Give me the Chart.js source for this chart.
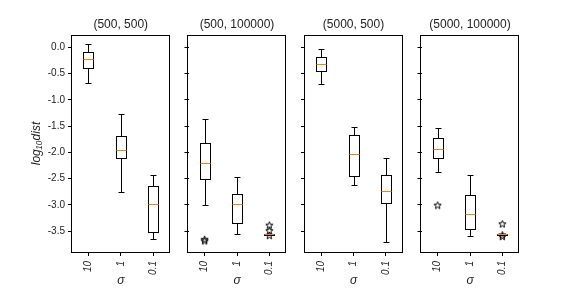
<!DOCTYPE html>
<html>
<head>
<meta charset="utf-8">
<script src="https://cdn.jsdelivr.net/npm/chart.js@4.4.1/dist/chart.umd.min.js"></script>
<style>
    html, body { margin: 0; padding: 0; background: #fff; }
    #fig { position: relative; width: 576px; height: 288px; }
    #fig canvas { position: absolute; left: 0; top: 0; }
</style>
</head>
<body>
<div id="fig"></div>
<script>
// ---- data ----
const categories = ['10', '1', '0.1'];
const panelTitles = ['(500, 500)', '(500, 100000)', '(5000, 500)', '(5000, 100000)'];
const yTicks = [0, -0.5, -1, -1.5, -2, -2.5, -3, -3.5];

// one row per panel, one value per sigma category
const whiskerLow = [
    [-0.686, -2.75, -3.658],
    [-3.01, -3.56, -3.57],
    [-0.705, -2.63, -3.71],
    [-2.38, -3.60, -3.57]
];
const quartile1 = [
    [-0.388, -2.115, -3.518],
    [-2.50, -3.35, -3.566],
    [-0.458, -2.45, -2.97],
    [-2.11, -3.467, -3.566]
];
const medians = [
    [-0.229, -1.963, -2.985],
    [-2.21, -2.99, -3.56],
    [-0.318, -2.04, -2.745],
    [-1.937, -3.175, -3.56]
];
const quartile3 = [
    [-0.095, -1.683, -2.636],
    [-1.83, -2.80, -3.553],
    [-0.19, -1.677, -2.44],
    [-1.73, -2.82, -3.553]
];
const whiskerHigh = [
    [0.057, -1.264, -2.44],
    [-1.372, -2.477, -3.55],
    [-0.04, -1.51, -2.115],
    [-1.53, -2.44, -3.55]
];
// outliers: [category, value]
const fliers = [
    [],
    [['10', -3.655], ['10', -3.685], ['0.1', -3.385], ['0.1', -3.49], ['0.1', -3.58]],
    [],
    [['10', -3.004], ['0.1', -3.36], ['0.1', -3.57], ['0.1', -3.60]]
];

// ---- layout of the figure (matplotlib-like subplot grid) ----
const FIG_W = 576, FIG_H = 288;
const panelLeft = [72, 188.5, 305, 421.5];
const panelRight = [169.5, 285.5, 402, 518.5];
const AXES_TOP = 35, AXES_BOTTOM = 252;
const Y_MIN = -3.897, Y_MAX = 0.234;
const BOX_W = 10;

Chart.defaults.font.family = "'Liberation Sans', Arial, sans-serif";
Chart.defaults.font.size = 10;
Chart.defaults.color = '#222';

function makeStar(size) {
    const c = document.createElement('canvas');
    c.width = c.height = size;
    const g = c.getContext('2d');
    const cx = size / 2, cy = size / 2 + 0.4, R = size / 2 - 0.7, r = R * 0.42;
    g.beginPath();
    for (let k = 0; k < 10; k++) {
        const a = -Math.PI / 2 + k * Math.PI / 5;
        const rr = k % 2 ? r : R;
        g.lineTo(cx + rr * Math.cos(a), cy + rr * Math.sin(a));
    }
    g.closePath();
    g.strokeStyle = '#000';
    g.lineWidth = 1;
    g.stroke();
    return c;
}
const starImg = makeStar(9);

// box outlines, whiskers, caps, medians and the axes frame
const boxParts = {
    id: 'boxParts',
    afterDatasetsDraw(chart, args, opts) {
        const p = opts.panel;
        const { ctx, scales: { x, y } } = chart;
        const yy = v => Math.round(y.getPixelForValue(v)) + 0.5;
        ctx.save();
        ctx.lineWidth = 1;
        categories.forEach((c, i) => {
            const cx = x.getPixelForValue(i);
            const px = Math.round(cx) + 0.5;
            const bl = Math.round(cx - BOX_W / 2) + 0.5, br = Math.round(cx + BOX_W / 2) + 0.5;
            ctx.strokeStyle = '#000';
            ctx.beginPath();
            ctx.moveTo(px, yy(quartile3[p][i])); ctx.lineTo(px, yy(whiskerHigh[p][i]));
            ctx.moveTo(px, yy(quartile1[p][i])); ctx.lineTo(px, yy(whiskerLow[p][i]));
            ctx.moveTo(px - 3, yy(whiskerHigh[p][i])); ctx.lineTo(px + 3, yy(whiskerHigh[p][i]));
            ctx.moveTo(px - 3, yy(whiskerLow[p][i])); ctx.lineTo(px + 3, yy(whiskerLow[p][i]));
            ctx.stroke();
            const t = yy(quartile3[p][i]), b = yy(quartile1[p][i]);
            ctx.strokeRect(bl, t, br - bl, Math.max(b - t, 1));
            ctx.strokeStyle = '#ff7f0e';
            ctx.beginPath();
            ctx.moveTo(bl, yy(medians[p][i])); ctx.lineTo(br, yy(medians[p][i]));
            ctx.stroke();
        });
        ctx.restore();
    },
    afterDraw(chart) {
        const { ctx, chartArea: a } = chart;
        ctx.save();
        ctx.strokeStyle = '#000';
        ctx.lineWidth = 1;
        const l = Math.floor(a.left) - 0.5, t = Math.floor(a.top) + 0.5;
        const r = Math.floor(a.right) + 0.5, b = Math.floor(a.bottom) + 0.5;
        ctx.strokeRect(l, t, r - l, b - t);
        ctx.restore();
    }
};

function buildPanel(p) {
    const canvas = document.createElement('canvas');
    canvas.width = FIG_W;
    canvas.height = FIG_H;
    document.getElementById('fig').appendChild(canvas);

    const yWidth = p === 0 ? 47 : 10;
    const xHeight = 36;

    new Chart(canvas.getContext('2d'), {
        type: 'bar',
        data: {
            labels: categories,
            datasets: [
                {
                    // interquartile range, outlined by the boxParts plugin
                    label: 'box',
                    data: categories.map((c, i) => [quartile1[p][i], quartile3[p][i]]),
                    backgroundColor: 'rgba(255,255,255,0)',
                    borderWidth: 0,
                    barThickness: BOX_W
                },
                {
                    type: 'line',
                    label: 'fliers',
                    data: fliers[p].map(f => ({ x: f[0], y: f[1] })),
                    showLine: false,
                    pointStyle: starImg,
                    pointRadius: 4,
                    borderColor: '#000'
                }
            ]
        },
        options: {
            responsive: false,
            animation: false,
            devicePixelRatio: 1,
            layout: {
                padding: {
                    left: panelLeft[p] - yWidth,
                    right: FIG_W - panelRight[p],
                    top: AXES_TOP - 17.4,
                    bottom: FIG_H - AXES_BOTTOM - xHeight
                }
            },
            plugins: {
                legend: { display: false },
                tooltip: { enabled: false },
                title: {
                    display: true,
                    text: panelTitles[p],
                    fullSize: false,
                    color: '#222',
                    font: { size: 12, weight: 'normal' },
                    padding: { top: 0, bottom: 3 }
                },
                boxParts: { panel: p }
            },
            scales: {
                x: {
                    type: 'category',
                    offset: true,
                    border: { display: false },
                    grid: { offset: false, drawOnChartArea: false, tickLength: 4, color: '#000' },
                    ticks: { minRotation: 90, maxRotation: 90, padding: 5, font: { style: 'italic' } },
                    title: {
                        display: true,
                        text: 'σ',
                        color: '#222',
                        font: { size: 12, style: 'italic' },
                        padding: { top: 0, bottom: 0 }
                    },
                    afterFit: s => { s.height = xHeight; }
                },
                y: {
                    min: Y_MIN,
                    max: Y_MAX,
                    border: { display: false },
                    grid: { drawOnChartArea: false, tickLength: 4, color: '#000' },
                    ticks: {
                        padding: 3,
                        callback: v => p === 0 ? v.toFixed(1) : ''
                    },
                    afterBuildTicks: s => { s.ticks = yTicks.map(v => ({ value: v })); },
                    title: {
                        display: p === 0,
                        text: 'log₁₀dist',
                        color: '#222',
                        font: { size: 12, style: 'italic' },
                        padding: { top: 4, bottom: 0 }
                    },
                    afterFit: s => { s.width = yWidth; }
                }
            }
        },
        plugins: [boxParts]
    });
}

panelTitles.forEach((t, p) => buildPanel(p));
</script>
</body>
</html>
